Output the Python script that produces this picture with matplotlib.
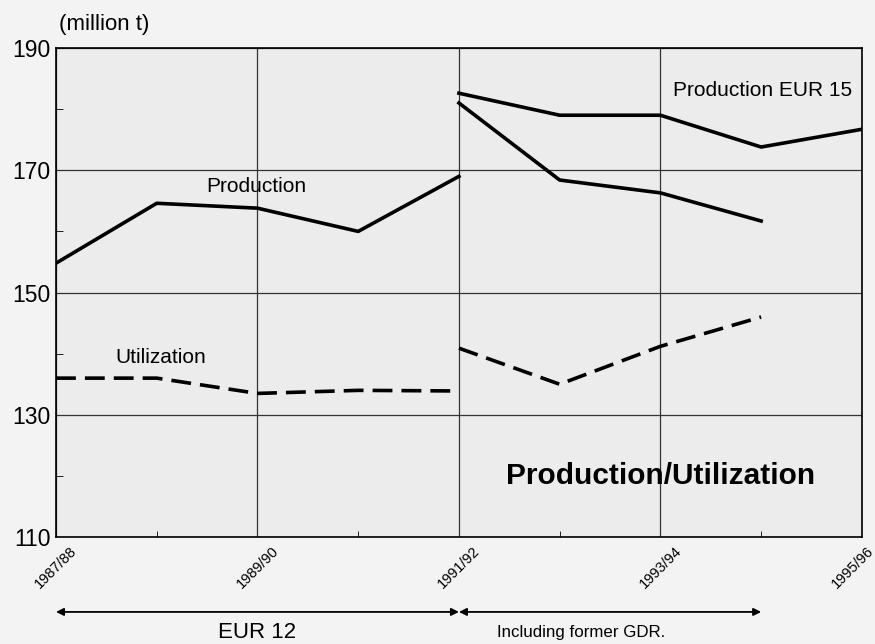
import numpy as np
import matplotlib.pyplot as plt
import matplotlib.transforms as mtransforms

plt.rcParams["font.family"] = ["Liberation Sans", "DejaVu Sans"]

# marketing years, index 0..8
years = ["1987/88", "1988/89", "1989/90", "1990/91", "1991/92",
         "1992/93", "1993/94", "1994/95", "1995/96"]
tick_labels = ["1987/88", "1989/90", "1991/92", "1993/94", "1995/96"]

# EUR 12 (1987/88 - 1991/92)
prod_eur12 = [154.8, 164.6, 163.8, 160.0, 169.0]
util_eur12 = [136.0, 136.0, 133.5, 134.0, 133.9]
# Including former GDR (1991/92 - 1994/95)
prod_gdr = [181.0, 168.4, 166.3, 161.7]
util_gdr = [140.9, 135.0, 141.2, 146.0]
# EUR 15 (1991/92 - 1995/96)
prod_eur15 = [182.6, 179.0, 179.0, 173.8, 176.7]

x = np.arange(len(years))

fig = plt.figure(figsize=(8.75, 6.44), dpi=100)
fig.patch.set_facecolor("#f3f3f3")
ax = fig.add_axes([0.064, 0.166, 0.921, 0.7595])
ax.set_facecolor("#ececec")

lw = 2.6
ax.plot(x[:5], prod_eur12, "k-", lw=lw)
ax.plot(x[4:8], prod_gdr, "k-", lw=lw)
ax.plot(x[4:9], prod_eur15, "k-", lw=lw)
ax.plot(x[:5], util_eur12, "k--", lw=lw, dashes=(5.5, 2.5))
ax.plot(x[4:8], util_gdr, "k--", lw=lw, dashes=(5.5, 2.5))

ax.set_xlim(0, 8)
ax.set_ylim(110, 190)
ax.set_yticks([110, 130, 150, 170, 190])
ax.set_yticks([120, 140, 160, 180], minor=True)
ax.set_xticks(x[::2])
ax.set_xticks(x[1::2], minor=True)
ax.set_xticklabels(tick_labels, rotation=45, ha="center", va="top", fontsize=10.5)
ax.tick_params(axis="y", labelsize=16.5, direction="in", length=0, pad=4)
ax.tick_params(axis="y", which="minor", direction="in", length=5)
ax.tick_params(axis="x", which="both", direction="in", length=4)
ax.tick_params(axis="x", which="major", length=0, pad=5)

# last label sits a little to the left so it stays inside the figure
last = ax.get_xticklabels()[-1]
last.set_transform(last.get_transform()
                   + mtransforms.ScaledTranslation(-0.09, 0, fig.dpi_scale_trans))

ax.grid(True, which="major", color="#333333", lw=0.9)
for s in ax.spines.values():
    s.set_linewidth(1.2)

ax.text(0.03, 193.8, "(million t)", fontsize=16, ha="left", va="center")
ax.text(1.985, 167.3, "Production", fontsize=15, ha="center", va="center")
ax.text(1.04, 139.4, "Utilization", fontsize=15, ha="center", va="center")
ax.text(7.9, 183.1, "Production EUR 15", fontsize=15, ha="right", va="center")
ax.text(6.0, 120.0, "Production/Utilization", fontsize=21.5, fontweight="bold",
        ha="center", va="center")

# period arrows below the axis
arrow_y = -0.153
for a, b in [(0, 4), (4, 7)]:
    ax.annotate("", xy=(a, arrow_y), xytext=(b, arrow_y),
                xycoords=("data", "axes fraction"),
                arrowprops=dict(arrowstyle="<|-|>", color="k", lw=1.3,
                                shrinkA=0, shrinkB=0, mutation_scale=11),
                annotation_clip=False)
ax.text(2.0, -0.196, "EUR 12", transform=ax.get_xaxis_transform(),
        fontsize=16, ha="center", va="center")
ax.text(5.21, -0.196, "Including former GDR.", transform=ax.get_xaxis_transform(),
        fontsize=12.2, ha="center", va="center")

fig.savefig("out.png", dpi=100)
